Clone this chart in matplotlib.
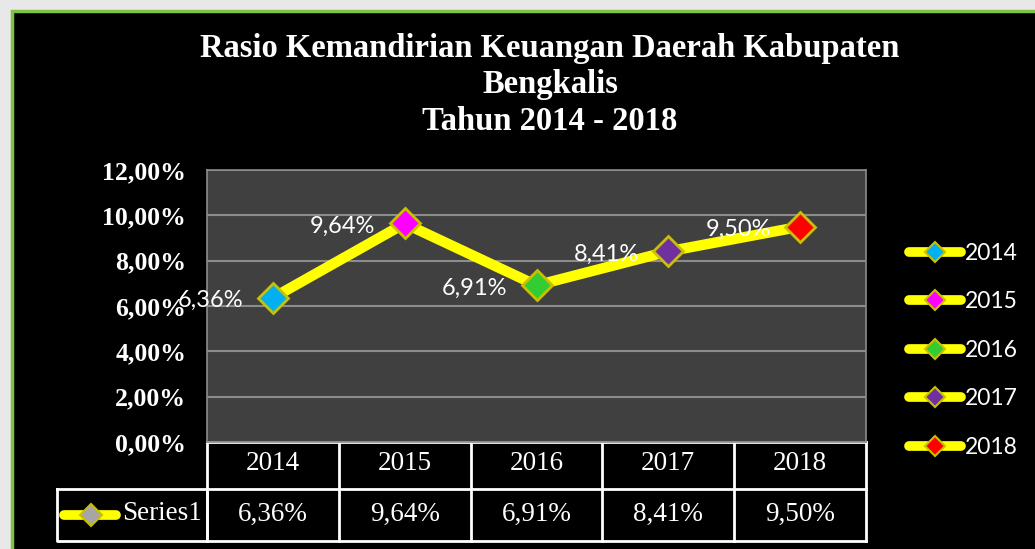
import numpy as np
import matplotlib
matplotlib.use("Agg")
import matplotlib.pyplot as plt
from matplotlib.lines import Line2D
from matplotlib.patches import Rectangle
from matplotlib.transforms import blended_transform_factory

# data
years = ["2014", "2015", "2016", "2017", "2018"]
rasio = [6.36, 9.64, 6.91, 8.41, 9.50]
point_colors = ["#00B0F0", "#FF00FF", "#33CC33", "#7030A0", "#FF0000"]
yticks = [0, 2, 4, 6, 8, 10, 12]

def pct(v):
    return f"{v:.2f}%".replace(".", ",")

W, H = 1035, 549
fig = plt.figure(figsize=(W / 100, H / 100), dpi=100, facecolor="#E8E8E8")

# background in pixel coords
bg = fig.add_axes([0, 0, 1, 1])
bg.set_xlim(0, W)
bg.set_ylim(H, 0)
bg.axis("off")
bg.add_patch(Rectangle((12, 11), W, H, facecolor="black", edgecolor="#7DC242", lw=2.5))

title_font = dict(family="Liberation Serif", weight="bold", color="white", fontsize=23.5)
bg.text(550, 48, "Rasio Kemandirian Keuangan Daerah Kabupaten", ha="center", va="center", **title_font)
bg.text(550, 84, "Bengkalis", ha="center", va="center", **title_font)
bg.text(550, 121, "Tahun 2014 - 2018", ha="center", va="center", **title_font)

# plot area
ax = fig.add_axes([207 / W, 1 - 442 / H, (866 - 207) / W, (442 - 170) / H])
ax.set_facecolor("#404040")
x = np.arange(len(years))
ax.set_xlim(-0.5, len(years) - 0.5)
ax.set_ylim(0, 12)
ax.set_yticks(yticks)
ax.set_yticklabels([pct(v) for v in yticks], family="Liberation Serif", weight="bold",
                   color="white", fontsize=18.5)
ax.tick_params(axis="y", length=0, pad=15)
ax.set_xticks([])
ax.grid(axis="y", color="#8C8C8C", lw=1.5)
ax.set_axisbelow(True)
for s in ax.spines.values():
    s.set_color("#8C8C8C")
    s.set_linewidth(1.2)

ax.plot(x, rasio, color="#FFFF00", lw=7.5, solid_joinstyle="miter", zorder=3)
for xi, yi, c in zip(x, rasio, point_colors):
    ax.plot(xi, yi, marker="D", ms=15, mfc=c, mec="#C8C000", mew=2, zorder=4)
    ax.annotate(pct(yi), (xi, yi), xytext=(-21, -2), textcoords="offset points",
                ha="right", va="center", color="white", fontsize=17, family="Lato")

# data table under the plot
tr = blended_transform_factory(ax.transData, bg.transData)
lkw = dict(color="white", lw=2, clip_on=False, transform=tr)
for b in np.arange(len(years) + 1) - 0.5:
    bg.plot([b, b], [442, 541], **lkw)
bg.plot([-0.5, len(years) - 0.5], [442, 442], **lkw)
bg.plot([-0.5, len(years) - 0.5], [489, 489], **lkw)
bg.plot([-0.5, len(years) - 0.5], [541, 541], **lkw)
bg.plot([57, 207, 207, 57, 57], [489, 489, 541, 541, 489], color="white", lw=2)
tab_font = dict(family="Liberation Serif", color="white", fontsize=19.5)
for xi, yr, v in zip(x, years, rasio):
    bg.text(xi, 464, yr, ha="center", va="center", transform=tr, **tab_font)
    bg.text(xi, 514, pct(v), ha="center", va="center", transform=tr, **tab_font)
bg.plot([64, 116], [515, 515], color="#FFFF00", lw=7, solid_capstyle="round")
bg.plot([91], [515], marker="D", ms=11, mfc="#A6A6A6", mec="#C8C000", mew=1.5)
bg.text(122, 513, "Series1", ha="left", va="center", **tab_font)

# legend on the right
handles = [Line2D([], [], color="#FFFF00", lw=7, solid_capstyle="round", marker="D", ms=10,
                  mfc=c, mec="#C8C000", mew=1.5) for c in point_colors]
leg = fig.legend(handles, years, loc="upper left", bbox_to_anchor=(888 / W, 1 - 222 / H),
                 frameon=False, handlelength=2.3, handletextpad=0.15,
                 labelspacing=1.2, prop={"family": "Lato", "size": 16.5})
for t in leg.get_texts():
    t.set_color("white")

fig.savefig("out.png", dpi=100, facecolor=fig.get_facecolor())
